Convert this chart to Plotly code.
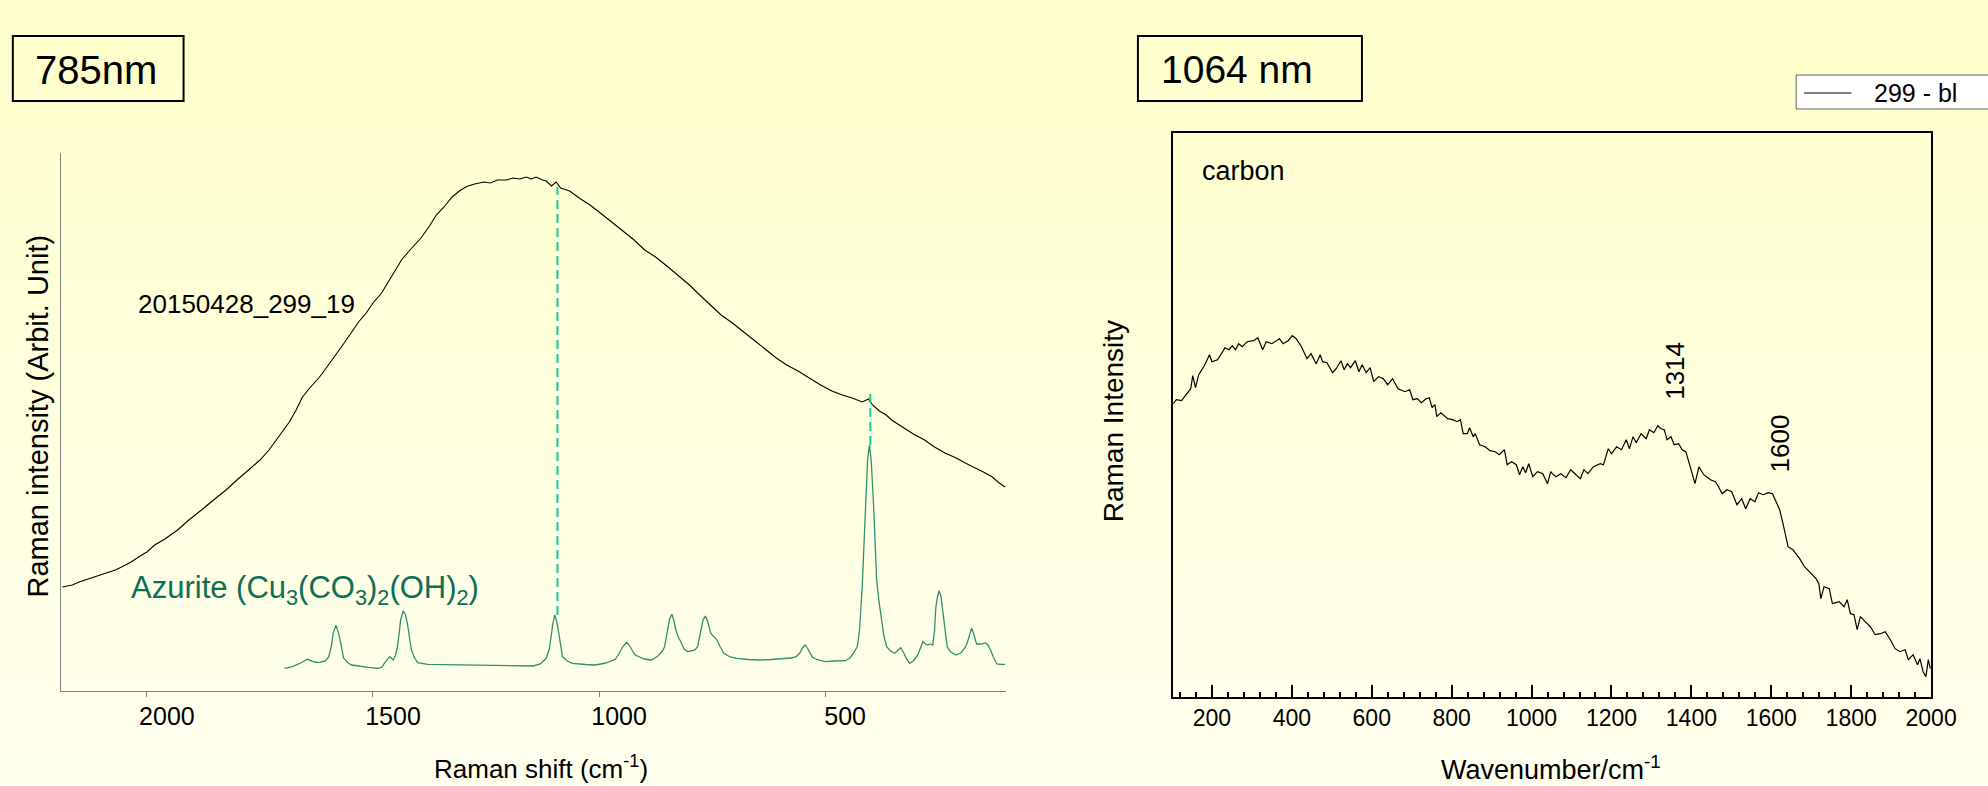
import plotly.graph_objects as go

W, H = 1988, 786
FONT = "Liberation Sans, Arial, sans-serif"

# ---------------- 785 nm spectrum (left panel) ----------------
sample_shift = [2187, 2165, 2150, 2129, 2110, 2090, 2070, 2056, 2035, 2015, 2000, 1983, 1960, 1945,
                1932, 1910, 1890, 1874, 1850, 1825, 1801, 1780, 1765, 1750, 1730, 1714, 1700, 1685,
                1670, 1656, 1640, 1620, 1605, 1590, 1570, 1550, 1532, 1515, 1500, 1481, 1465, 1450,
                1437, 1420, 1405, 1394, 1375, 1360, 1343, 1325, 1306, 1290, 1275, 1255, 1240, 1225,
                1205, 1190, 1175, 1161, 1150, 1139, 1125, 1117, 1105, 1095, 1085, 1065, 1044, 1020,
                1000, 972, 950, 925, 899, 875, 850, 826, 800, 775, 753, 730, 705, 681, 655, 630,
                608, 585, 560, 535, 510, 485, 462, 440, 418, 404, 395, 380, 365, 353, 330, 305,
                280, 258, 235, 210, 190, 171, 150, 130, 115, 102]
sample_int = [104, 106, 109, 112, 115, 118, 121, 124, 129, 135, 139, 146, 152, 157,
              161, 170, 177, 183, 192, 201, 211, 219, 225, 231, 241, 251, 259, 269,
              281, 294, 303, 313, 322, 331, 344, 357, 369, 378, 388, 398, 410, 422,
              431, 440, 447, 453, 465, 476, 484, 494, 501, 505, 507, 509, 508, 511,
              511, 513, 512, 514, 512, 514, 511, 510, 505, 509, 503, 500, 493, 486,
              479, 469, 461, 452, 441, 434, 425, 416, 406, 395, 386, 376, 368, 359, 350, 341,
              333, 326, 320, 313, 306, 300, 296, 293, 289, 292, 286, 280, 276, 271, 264, 257,
              251, 244, 238, 233, 228, 224, 219, 214, 208, 204]

azurite_shift = [1696, 1678, 1660, 1645, 1630, 1620, 1605, 1598, 1592, 1588, 1582, 1576, 1570, 1565,
                 1555, 1547, 1510, 1488, 1480, 1474, 1463, 1455, 1450, 1446, 1442, 1439, 1433, 1428,
                 1424, 1419, 1415, 1408, 1401, 1379, 1340, 1292, 1250, 1219, 1190, 1146, 1130, 1117,
                 1110, 1106, 1102, 1098, 1094, 1089, 1085, 1081, 1070, 1059, 1030, 1008, 985, 964,
                 955, 948, 939, 932, 926, 920, 900, 884, 870, 860, 855, 852, 848, 844, 839, 835,
                 830, 825, 820, 812, 804, 795, 788, 782, 778, 774, 770, 765, 760, 753, 746, 739,
                 732, 724, 710, 695, 670, 644, 620, 593, 575, 564, 556, 550, 544, 538, 533, 528,
                 515, 499, 480, 465, 455, 445, 437, 429, 424, 418, 414, 410, 406, 402, 398, 393,
                 389, 386, 381, 375, 370, 364, 355, 346, 340, 333, 326, 320, 313, 305, 300, 295,
                 290, 284, 278, 273, 268, 262, 258, 255, 251, 248, 244, 240, 235, 230, 222, 211,
                 200, 189, 183, 179, 176, 172, 168, 165, 155, 145, 140, 134, 128, 120, 110, 102]
azurite_int = [22.7, 24.3, 28, 31.7, 29, 28.3, 30, 34, 45, 57.7, 65.7, 57.7, 45, 32.7,
               28, 26, 23.7, 22.7, 24, 28.3, 34.3, 31, 36, 44.3, 58, 71, 80, 76,
               67.7, 55, 41, 33, 28.3, 26.7, 26.3, 26, 25.5, 25.3, 25.3, 25, 27, 32.7,
               42, 57.7, 68, 76, 70, 57.7, 45, 34.3, 30, 27.7, 26.5, 26, 28, 31.7,
               38, 44, 48.7, 45, 40, 36, 32, 31, 35, 40, 44.3, 52, 64.3, 72, 76.7, 71,
               61, 54, 50, 42, 39.3, 40, 41, 44.3, 54, 64.3, 71, 75, 70, 57.7, 54, 51,
               44, 37.7, 34, 32.7, 31.5, 31, 31.5, 32.3, 33, 34.3, 38, 43, 46, 42, 37, 33.7,
               31, 29.3, 30, 30, 30.3, 33, 38, 44.3, 60, 104, 150, 204, 232, 246, 230, 187.7,
               150, 111, 90, 71, 55, 44.3, 40, 37.7, 40, 43.3, 38, 32, 27.7, 30, 33, 36,
               42, 49.3, 47, 46, 47, 46, 60, 84.3, 95, 100.3, 95, 81, 62, 44.3, 39, 36,
               38, 44.3, 52, 58, 62.7, 58, 52, 47, 47, 48.3, 46, 41, 34, 27, 26.5, 26.7]

# band positions shared by the sample and the reference, with the span of each guide line
guide_shift = [1092, 400]
guide_low = [76, 246]
guide_high = [504, 302]

left_ticks = [2000, 1500, 1000, 500]

# ---------------- 1064 nm spectrum (right panel) ----------------
carbon_wn = [103, 111, 124, 136, 147, 152, 159, 167, 181, 194, 200, 214, 233, 243, 251, 259, 267,
             276, 288, 304, 315, 327, 336, 350, 358, 369, 378, 391, 401, 411, 424, 438, 448, 461,
             471, 477, 488, 502, 511, 523, 531, 539, 547, 559, 568, 576, 586, 596, 605, 617, 629,
             640, 652, 666, 683, 695, 703, 714, 724, 736, 744, 751, 758, 763, 773, 790, 802, 814,
             822, 829, 839, 845, 854, 859, 870, 884, 896, 909, 919, 932, 939, 950, 962, 970, 978,
             985, 993, 1003, 1015, 1028, 1040, 1048, 1052, 1061, 1073, 1086, 1098, 1110, 1122,
             1131, 1141, 1155, 1172, 1180, 1192, 1200, 1213, 1225, 1237, 1245, 1254, 1262, 1274,
             1287, 1295, 1306, 1316, 1324, 1332, 1339, 1349, 1357, 1368, 1377, 1386, 1397, 1409,
             1419, 1431, 1448, 1460, 1468, 1477, 1489, 1501, 1514, 1526, 1536, 1547, 1559, 1568,
             1580, 1592, 1603, 1611, 1621, 1631, 1642, 1654, 1671, 1683, 1700, 1712, 1719, 1724,
             1732, 1745, 1753, 1770, 1782, 1790, 1798, 1807, 1815, 1823, 1835, 1848, 1860, 1873,
             1885, 1898, 1910, 1922, 1935, 1943, 1955, 1966, 1972, 1980, 1987, 1993, 1998]
carbon_int = [293, 297, 296, 302, 308, 321, 309, 322, 331, 342, 335, 337, 349, 347, 351, 347, 353,
              350, 355, 356, 359, 347, 355, 353, 355, 358, 353, 356, 361, 358, 350, 338, 343, 333,
              342, 335, 334, 324, 328, 336, 327, 333, 329, 336, 325, 332, 324, 329, 315, 320, 318,
              312, 318, 308, 305, 307, 297, 298, 294, 298, 299, 289, 292, 280, 284, 278, 277, 275,
              277, 263, 263, 269, 260, 263, 252, 250, 246, 245, 242, 247, 232, 235, 232, 222, 230,
              224, 233, 220, 225, 223, 213, 225, 223, 220, 223, 219, 227, 222, 218,
              227, 223, 230, 233, 232, 248, 243, 250, 247, 257, 248, 260, 254, 263,
              258, 267, 264, 271, 268, 267, 257, 260, 252, 253, 247, 245, 230, 213,
              230, 222, 217, 215, 210, 203, 207, 205, 192, 198, 188, 198, 195, 204,
              202, 204, 203, 195, 187, 170, 150, 147, 138, 130, 123, 118, 113, 98,
              110, 108, 93, 95, 90, 97, 83, 82, 67, 80, 75, 70, 62, 63,
              65, 57, 48, 45, 47, 37, 42, 32, 38, 25, 20, 37, 28]

band_labels = ["1314", "1600"]


def px(x):
    return x / W


def py(y):
    return 1 - y / H


fig = go.Figure()

fig.add_trace(go.Scatter(x=sample_shift, y=sample_int, mode="lines",
                         line=dict(color="black", width=1.1), xaxis="x", yaxis="y",
                         showlegend=False))
fig.add_trace(go.Scatter(x=azurite_shift, y=azurite_int, mode="lines",
                         line=dict(color="#2E8F6C", width=1.3), xaxis="x", yaxis="y",
                         showlegend=False))
for s, lo, hi in zip(guide_shift, guide_low, guide_high):
    fig.add_trace(go.Scatter(x=[s, s], y=[lo, hi], mode="lines",
                             line=dict(color="#12CC9C", width=2, dash="9px,5px"),
                             xaxis="x", yaxis="y", showlegend=False))

fig.add_trace(go.Scatter(x=carbon_wn, y=carbon_int, mode="lines",
                         line=dict(color="black", width=1.2), xaxis="x2", yaxis="y2",
                         name="299 - bl", showlegend=False))

# soft vertical background gradient (slightly wider than the page)
shapes = []
n_bands = 90
for i in range(n_bands):
    t = i / (n_bands - 1)
    b = int(round(203 + t * (238 - 203)))
    shapes.append(dict(type="rect", xref="paper", yref="paper",
                       x0=0, x1=px(2015), y0=max(0.0, 1 - (i + 1) / n_bands - 0.001),
                       y1=1 - i / n_bands,
                       fillcolor=f"rgb(255,255,{b})", line=dict(width=0), layer="below"))

# laser wavelength boxes
shapes.append(dict(type="rect", xref="paper", yref="paper",
                   x0=px(13), x1=px(186), y0=py(101), y1=py(36),
                   line=dict(color="black", width=2), fillcolor="rgba(0,0,0,0)"))
shapes.append(dict(type="rect", xref="paper", yref="paper",
                   x0=px(1153), x1=px(1380), y0=py(101), y1=py(36),
                   line=dict(color="black", width=2), fillcolor="rgba(0,0,0,0)"))
# legend box of the right panel, running off the right edge
lg_x0, lg_x1, lg_top, lg_bot = px(1820), px(2015), py(75), py(109)
shapes.append(dict(type="rect", xref="paper", yref="paper",
                   x0=lg_x0, x1=lg_x1, y0=lg_bot, y1=lg_top,
                   line=dict(width=0), fillcolor="white"))
shapes.append(dict(type="path", xref="paper", yref="paper",
                   path=f"M {lg_x1},{lg_top} L {lg_x0},{lg_top} L {lg_x0},{lg_bot} L {lg_x1},{lg_bot}",
                   line=dict(color="#606060", width=1)))
shapes.append(dict(type="line", xref="paper", yref="paper",
                   x0=px(1828), x1=px(1876), y0=py(93), y1=py(93),
                   line=dict(color="black", width=1)))

ann = []


def text(x, y, s, size, color="black", xanchor="left", angle=0):
    ann.append(dict(x=px(x), y=py(y), xref="paper", yref="paper", text=s, showarrow=False,
                    xanchor=xanchor, yanchor="middle", textangle=angle,
                    font=dict(family=FONT, size=size, color=color)))


text(33, 70, "785nm", 40)
text(1174, 70, "1064 nm", 39)
text(1897, 93, "299 - bl", 25)
text(138, 304, "20150428_299_19", 26)
text(131, 590, "Azurite (Cu<sub>3</sub>(CO<sub>3</sub>)<sub>2</sub>(OH)<sub>2</sub>)", 31,
     color="#0C6E56")
text(1216, 171, "carbon", 27)
text(1697, 371, band_labels[0], 26, xanchor="center", angle=-90)
text(1804, 443, band_labels[1], 26, xanchor="center", angle=-90)
text(38, 416, "Raman intensity (Arbit. Unit)", 29, xanchor="center", angle=-90)
text(1128, 421, "Raman Intensity", 28, xanchor="center", angle=-90)
text(548, 767, "Raman shift (cm<sup>-1</sup>)", 26, xanchor="center")
text(1572, 768, "Wavenumber/cm<sup>-1</sup>", 27, xanchor="center")

fig.update_layout(
    width=W, height=H, autosize=False,
    margin=dict(l=0, r=0, t=0, b=0, pad=0),
    paper_bgcolor="rgb(255,255,220)",
    plot_bgcolor="rgba(0,0,0,0)",
    font=dict(family=FONT, color="black"),
    shapes=shapes,
    annotations=ann,
    showlegend=False,
    xaxis=dict(domain=[px(62.3), px(1019.3)], range=[2189, 100],
               showline=True, linecolor="#808080", linewidth=1,
               ticks="outside", ticklen=5, tickcolor="#808080", tickwidth=1,
               tickvals=left_ticks, ticktext=[str(v) for v in left_ticks],
               tickfont=dict(size=25, family=FONT, color="black"),
               ticklabelshift=-20, ticklabelstandoff=-2,
               showgrid=False, zeroline=False),
    yaxis=dict(domain=[py(691), py(152.7)], range=[0, 538.3],
               showline=True, linecolor="#808080", linewidth=1,
               showticklabels=False, ticks="", showgrid=False, zeroline=False),
    xaxis2=dict(domain=[px(1188.7), px(1956.7)], range=[103, 2000], anchor="y2",
                showline=True, mirror=True, linecolor="black", linewidth=2,
                ticks="inside", ticklen=12, tickwidth=2, tickcolor="black",
                tick0=0, dtick=200,
                minor=dict(ticks="inside", ticklen=5, tickwidth=1.5, tickcolor="black",
                           tick0=0, dtick=40),
                tickfont=dict(size=23, family=FONT, color="black"),
                showgrid=False, zeroline=False),
    yaxis2=dict(domain=[py(696.7), py(133.3)], range=[0, 563.4], anchor="x2",
                showline=True, mirror=True, linecolor="black", linewidth=2,
                showticklabels=False, ticks="", showgrid=False, zeroline=False),
)

fig.write_html("out.html")
